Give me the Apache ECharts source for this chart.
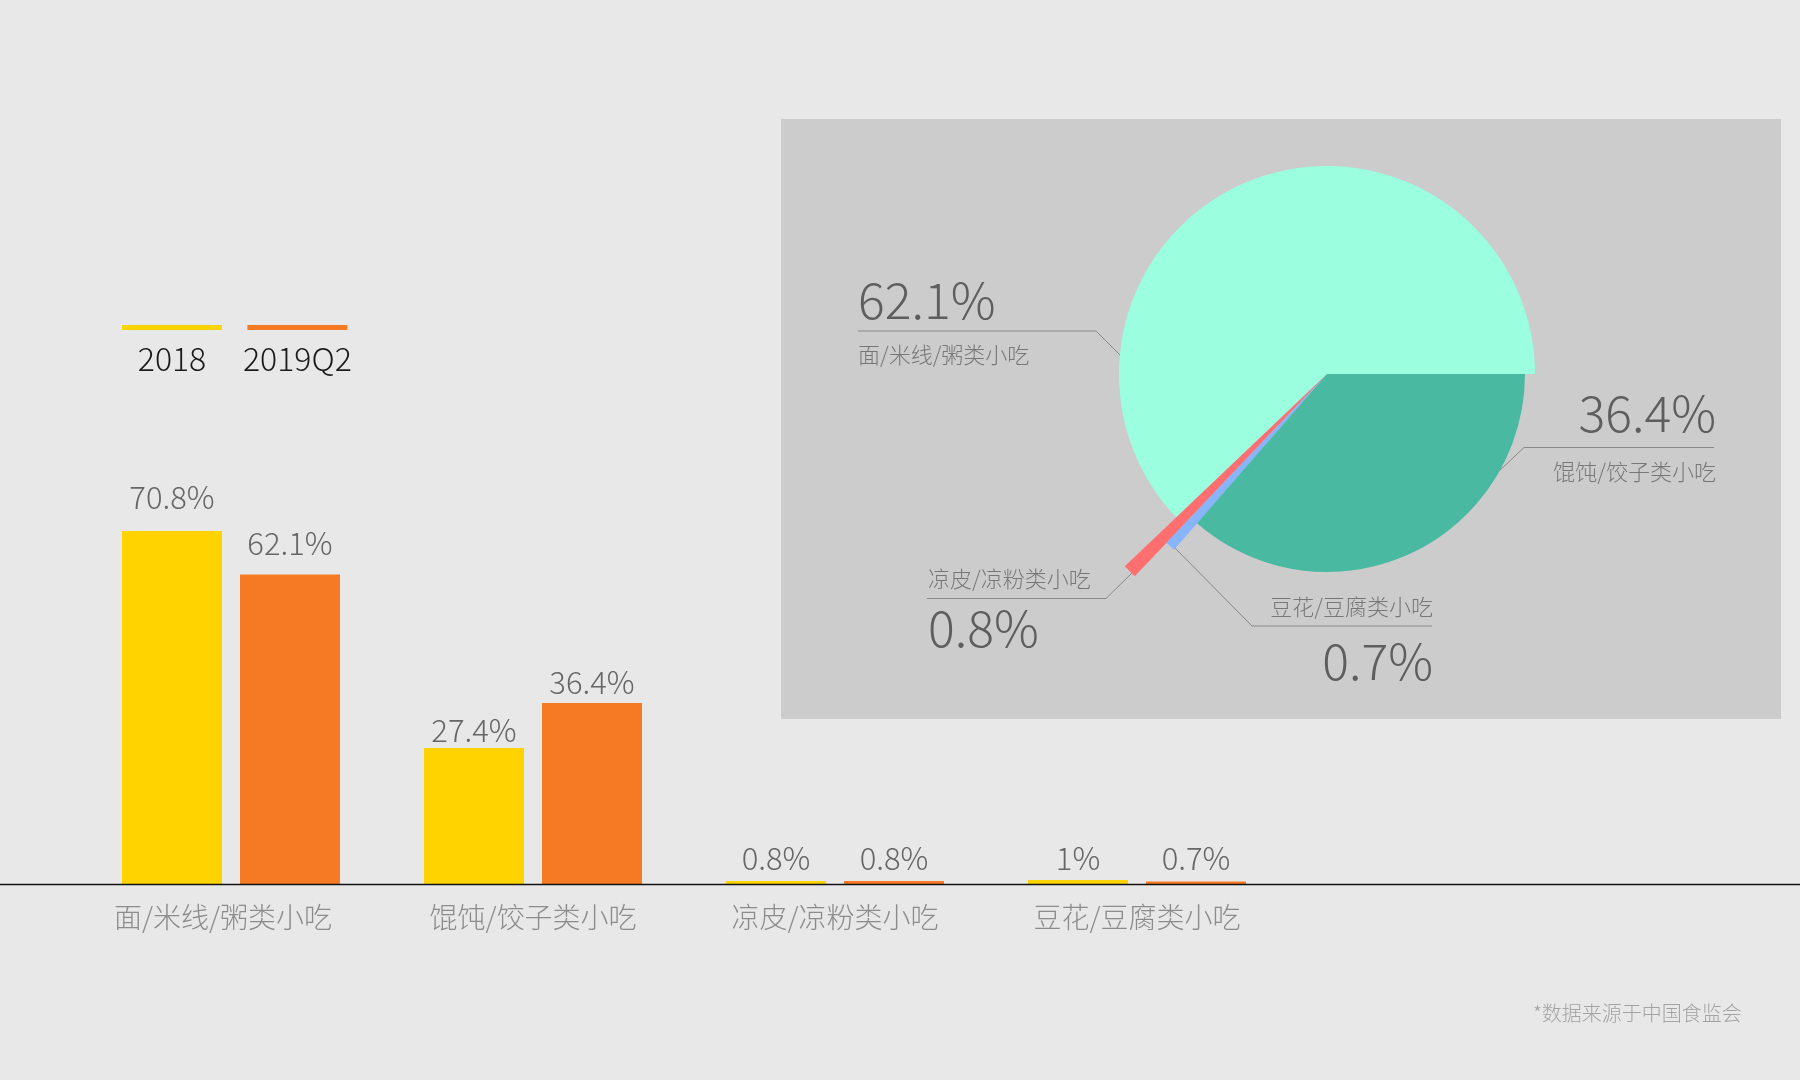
<!DOCTYPE html>
<html>
<head>
<meta charset="utf-8">
<script src="https://cdn.jsdelivr.net/npm/echarts@6/dist/echarts.min.js"></script>
<style>
html,body{margin:0;padding:0;background:#e8e8e8;}
#c{width:1800px;height:1080px;}
</style>
</head>
<body>
<div id="c"></div>
<script>
// ---- data ----
const categories = ['面/米线/粥类小吃', '馄饨/饺子类小吃', '凉皮/凉粉类小吃', '豆花/豆腐类小吃'];
const series2018 = [70.8, 27.4, 0.8, 1];
const series2019Q2 = [62.1, 36.4, 0.8, 0.7];
const legendNames = ['2018', '2019Q2'];
const pieOrder = [0, 2, 3, 1];
const footnote = '*数据来源于中国食监会';

// ---- styles ----
const FONT = '"Noto Sans CJK SC Light", "Source Han Sans SC Light", "Noto Sans CJK SC", sans-serif';
const barColors = ['#ffd300', '#f67a24'];
const labelDistance2018 = [18, 2, 7, 6];
const labelDistance2019 = [16, 5, 7, 7.5];
const categoryLabelPadRight = [16, 0, 0, 0];
const pieColors = ['#9bffdf', '#4ab9a1', '#ff6f6f', '#87b4fb'];
const pieCenter = [1327, 374];
const pieRadius = [208, 198, 279, 233];
const pieLabelCfg = [
  { x: 858, y: 270, align: 'left', nameFirst: false, nH: 50, line: [[1123, 358], [1096, 331], [858, 331]] },
  { x: 1716, y: 382.5, align: 'right', nameFirst: false, nH: 58, line: [[1497, 473], [1524, 447.5], [1714, 447.5]] },
  { x: 928, y: 559.3, align: 'left', nameFirst: true, nH: 39, line: [[1132, 573], [1106, 598.5], [927, 598.5]] },
  { x: 1433, y: 582.6, align: 'right', nameFirst: true, nH: 48.8, line: [[1172, 545], [1252, 626], [1432, 626]] }
];

const chart = echarts.init(document.getElementById('c'));

const pieSeries = pieOrder.map(function (catIdx) {
  const cfg = pieLabelCfg[catIdx];
  const visibleIdx = pieOrder.indexOf(catIdx);
  return {
    type: 'pie',
    center: pieCenter,
    radius: [0, pieRadius[catIdx]],
    startAngle: 0,
    clockwise: false,
    avoidLabelOverlap: false,
    silent: true,
    emphasis: { disabled: true },
    z: 3,
    data: pieOrder.map(function (j) {
      return {
        name: categories[j],
        value: series2019Q2[j],
        itemStyle: { color: j === catIdx ? pieColors[j] : 'rgba(0,0,0,0)' },
        label: { show: j === catIdx },
        labelLine: { show: j === catIdx }
      };
    }),
    label: {
      fontFamily: FONT,
      formatter: function (p) {
        const pct = '{p|' + p.value + '%}';
        const nm = '{n|' + p.name + '}';
        return cfg.nameFirst ? nm + '\n' + pct : pct + '\n' + nm;
      },
      rich: {
        p: { fontSize: 50, lineHeight: 60, color: '#5e5e5e', fontWeight: 300, fontFamily: FONT },
        n: { fontSize: 22, lineHeight: cfg.nH, color: '#777777', fontWeight: 300, fontFamily: FONT }
      }
    },
    labelLine: { lineStyle: { color: '#888888', width: 1 } },
    labelLayout: function (params) {
      if (params.dataIndex !== visibleIdx) return {};
      return {
        x: cfg.x,
        y: cfg.y,
        align: cfg.align,
        verticalAlign: 'top',
        labelLinePoints: cfg.line
      };
    }
  };
});

function barData(values, distances) {
  return values.map(function (v, i) {
    return { value: v, label: { distance: distances[i] } };
  });
}

const barLabel = { show: true, position: 'top', formatter: '{c}%', fontSize: 31, color: '#666666', fontWeight: 300, fontFamily: FONT };

const option = {
  backgroundColor: '#e8e8e8',
  animation: false,
  textStyle: { fontFamily: FONT },
  title: {
    text: footnote,
    left: 1528,
    top: 998,
    textStyle: { fontSize: 20, color: '#a3a3a3', fontWeight: 300, fontFamily: FONT }
  },
  legend: {
    data: legendNames,
    left: 117,
    top: 320,
    icon: 'rect',
    itemWidth: 100,
    itemHeight: 5,
    itemGap: 21,
    selectedMode: false,
    formatter: function (n) { return '{t|' + n + '}'; },
    textStyle: {
      padding: [62, 0, 0, -105],
      rich: { t: { width: 100, align: 'center', fontSize: 32, color: '#1a1a1a', fontWeight: 300, fontFamily: FONT } }
    }
  },
  grid: { left: 80, top: 385, width: 1208, height: 500 },
  xAxis: {
    type: 'category',
    data: categories.map(function (c, i) {
      return { value: c, textStyle: { padding: [0, categoryLabelPadRight[i], 0, 0] } };
    }),
    axisLine: { show: false },
    axisTick: { show: false },
    axisLabel: { fontSize: 28, color: '#8c8c8c', margin: 18, fontWeight: 300, fontFamily: FONT }
  },
  yAxis: { type: 'value', min: 0, max: 100, show: false },
  graphic: [
    { type: 'rect', z: 0, shape: { x: 781, y: 119, width: 1000, height: 600 }, style: { fill: '#cccccc' } },
    { type: 'line', z: 100, shape: { x1: 0, y1: 884.5, x2: 1800, y2: 884.5 }, style: { stroke: '#111111', lineWidth: 1.5 } }
  ],
  series: [
    {
      type: 'bar', name: legendNames[0], data: barData(series2018, labelDistance2018), barWidth: 100, barGap: '18%',
      itemStyle: { color: barColors[0] },
      label: barLabel
    },
    {
      type: 'bar', name: legendNames[1], data: barData(series2019Q2, labelDistance2019), barWidth: 100, barGap: '18%',
      itemStyle: { color: barColors[1] },
      label: barLabel
    }
  ].concat(pieSeries)
};

chart.setOption(option);
</script>
</body>
</html>
